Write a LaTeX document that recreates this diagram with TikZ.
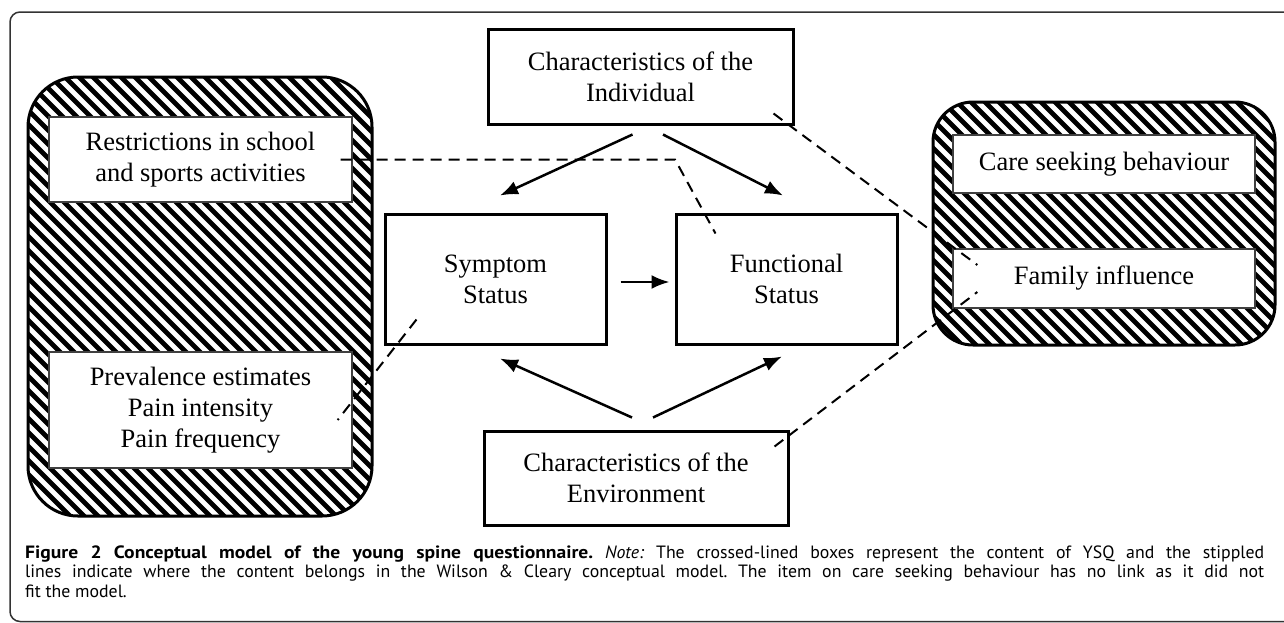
\documentclass[tikz,border=0pt]{standalone}
\usepackage{fontspec}
\setmainfont{Liberation Serif}
\newfontfamily\capfont{PT Sans}[BoldFeatures={FakeStretch=1.1}]
\usetikzlibrary{calc}
\usetikzlibrary{arrows.meta, positioning}

\newcommand{\diagfont}{\fontsize{26.5}{31}\selectfont}
\newcommand{\capsize}{\capfont\fontsize{17.8}{19.5}\selectfont\frenchspacing}

\tikzset{
    mainbox/.style={draw=black, line width=3pt, fill=white, align=center, inner sep=0pt, font=\diagfont},
    itembox/.style={draw=black!75, line width=1.3pt, fill=white, align=center, inner sep=0pt, font=\diagfont},
    flow/.style={line width=2.5pt, -{Latex[length=18pt,width=14pt]}},
    link/.style={line width=2pt, dash pattern=on 11pt off 7pt},
    hatchline/.style={line width=4.8pt},
    zone/.style={line width=3pt, rounded corners=#1}
}

\begin{document}
\begin{tikzpicture}[x=1pt,y=-1pt]

\useasboundingbox (0,0) rectangle (1284,622);

% Outer frame
\draw[line width=1.5pt, black!80, rounded corners=10pt] (10,12) rectangle (1330,621.5);

% Hatched zone (left)
\begin{scope}
    \clip[rounded corners=50pt] (28,77) rectangle (372,516);
    \foreach \x in {-460,-446,...,380}
    {
        \draw[hatchline] (\x,70) -- ++(460,460);
    }
\end{scope}
\draw[zone=50pt] (28,77) rectangle (372,516);

% Hatched zone (right)
\begin{scope}
    \clip[rounded corners=40pt] (933,102) rectangle (1275,345);
    \foreach \x in {670,684,...,1290}
    {
        \draw[hatchline] (\x,95) -- ++(260,260);
    }
\end{scope}
\draw[zone=40pt] (933,102) rectangle (1275,345);

% Questionnaire items
\node[itembox, minimum width=303pt, minimum height=85pt] (res) at (200.5,159.5) {Restrictions in school\\and sports activities};
\node[itembox, minimum width=303pt, minimum height=116pt] (pre) at (200.5,410) {Prevalence estimates\\Pain intensity\\Pain frequency};
\node[itembox, minimum width=302pt, minimum height=58pt] (care) at (1104,164) {Care seeking behaviour};
\node[itembox, minimum width=302pt, minimum height=59pt] (fam) at (1104,278.5) {Family influence};

% Model boxes
\node[mainbox, minimum width=305pt, minimum height=95pt] (ind) at (640.5,76.5) {Characteristics of the\\Individual};
\node[mainbox, minimum width=221pt, minimum height=130pt] (sym) at (495.5,279) {Symptom\\Status};
\node[mainbox, minimum width=221pt, minimum height=130pt] (fun) at (786.5,279) {Functional\\Status};
\node[mainbox, minimum width=304pt, minimum height=94pt] (env) at (636,478) {Characteristics of the\\Environment};

% Model arrows
\draw[flow] ([xshift=-8pt,yshift=-9pt]ind.south) -- ([xshift=4.5pt,yshift=17pt]sym.north);
\draw[flow] ([xshift=22.5pt,yshift=-9pt]ind.south) -- ([xshift=-3.5pt,yshift=17pt]fun.north);
\draw[flow] ([xshift=13pt,yshift=-3pt]sym.east) -- ([xshift=-5pt,yshift=-3pt]fun.west);
\draw[flow] ([xshift=-4pt,yshift=12pt]env.north) -- ([xshift=4.5pt,yshift=-13pt]sym.south);
\draw[flow] ([xshift=17pt,yshift=12pt]env.north) -- ([xshift=-4.5pt,yshift=-11pt]fun.south);

% Stippled links
\coordinate (resbend) at (675,159.5);
\draw[link] ([xshift=-12pt]res.east) -- (resbend) -- ([xshift=41pt,yshift=-21pt]fun.north west);
\draw[link] ([xshift=-21pt,yshift=12pt]ind.south east) -- ([xshift=25pt,yshift=13.5pt]fam.west);
\draw[link] ([xshift=-15pt,yshift=-17pt]env.north east) -- ([xshift=25pt,yshift=-13.5pt]fam.west);
\draw[link] ([xshift=33pt,yshift=26pt]sym.south west) -- ([xshift=-15pt,yshift=-10pt]pre.east);

% Caption
\node[anchor=north west, text width=1239pt, inner sep=0pt, align=justify, font=\capsize] (caption) at (25,545.5) {\textbf{Figure 2 Conceptual model of the young spine questionnaire.} \textit{Note:} The crossed-lined boxes represent the content of YSQ and the stippled\linebreak lines indicate where the content belongs in the Wilson \& Cleary conceptual model. The item on care seeking behaviour has no link as it did not\linebreak fit the model.};

\end{tikzpicture}
\end{document}
